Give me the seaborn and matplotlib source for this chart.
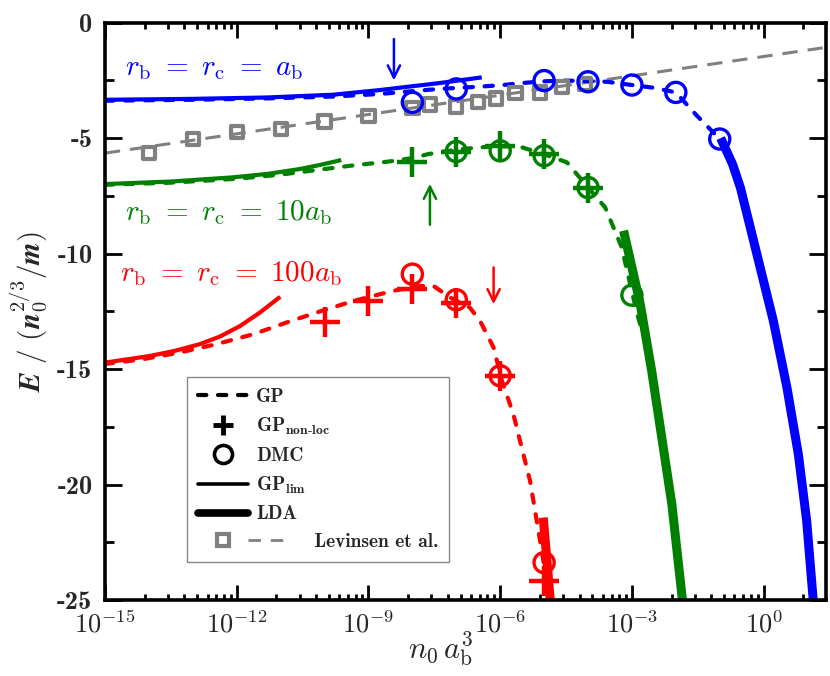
import matplotlib
matplotlib.use("Agg")
import matplotlib.pyplot as plt
import seaborn as sns
import numpy as np
from matplotlib.lines import Line2D
from matplotlib.legend_handler import HandlerBase
from matplotlib.ticker import FixedLocator, NullFormatter

# ---------------- data: x given as log10(n0 a_b^3), y = E/(n0^{2/3}/m) -------------
# r_b = r_c = a_b (blue)
blue_lim_lx = [-15, -13, -11.3, -9.8, -8.75, -7.4, -6.42]
blue_lim_y = [-3.34, -3.30, -3.24, -3.12, -2.92, -2.62, -2.37]
blue_gp_lx = [-15, -13, -11.3, -9.8, -8.75, -7.4, -6.45, -5.93, -5.47, -5.0, -4.52,
              -4.0, -3.57, -3.0, -2.5, -2.0, -1.52, -1.0]
blue_gp_y = [-3.38, -3.34, -3.28, -3.2, -3.09, -2.87, -2.77, -2.70, -2.61, -2.54, -2.51,
             -2.53, -2.56, -2.70, -2.82, -3.02, -4.03, -5.04]
blue_dmc_lx = [-8, -7, -5, -4, -3, -2, -1]
blue_dmc_y = [-3.45, -2.87, -2.51, -2.56, -2.70, -3.02, -5.04]
blue_lda_lx = [-0.98, -0.71, -0.53, -0.155, 0.22, 0.53, 0.79, 0.98, 1.13]
blue_lda_y = [-5.0, -6.12, -7.14, -10.02, -12.91, -15.80, -18.69, -21.58, -25.04]

# r_b = r_c = 10 a_b (green)
green_lim_lx = [-15, -13.5, -12.1, -11.3, -10.57, -10.1, -9.62]
green_lim_y = [-6.99, -6.88, -6.70, -6.55, -6.34, -6.16, -5.95]
green_gp_lx = [-15, -13.5, -12, -11, -10.42, -9.43, -8.52, -7.95, -7.64, -7.0, -6.46,
               -6.0, -5.55, -5.0, -4.48, -4.0, -3.61, -3.42, -3.23, -3.11, -2.88, -2.79]
green_gp_y = [-7.02, -6.93, -6.76, -6.58, -6.44, -6.2, -6.01, -5.85, -5.69, -5.5, -5.40,
              -5.35, -5.37, -5.7, -6.05, -7.14, -8.0, -8.87, -9.74, -10.75, -12.62, -13.2]
green_nl_lx = [-8, -7, -6, -5, -4]
green_nl_y = [-6.05, -5.58, -5.33, -5.70, -7.14]
green_dmc_lx = [-7, -6, -5, -4, -3]
green_dmc_y = [-5.58, -5.55, -5.76, -7.14, -11.8]
green_lda_lx = [-3.19, -2.81, -2.55, -2.32, -2.09, -1.85]
green_lda_y = [-9.01, -12.19, -15.08, -17.97, -20.86, -25.0]

# r_b = r_c = 100 a_b (red)
red_lim_lx = [-15, -13.97, -13.41, -12.84, -12.38, -11.92, -11.47, -11.01]
red_lim_y = [-14.72, -14.43, -14.21, -13.92, -13.59, -13.13, -12.55, -11.87]
red_gp_lx = [-15, -14.13, -13.29, -12.46, -11.62, -10.86, -10.18, -9.34, -8.43, -7.82,
             -7.52, -7.14, -6.69, -6.46, -6.15, -5.96, -5.70, -5.51, -5.32, -5.13, -5.0]
red_gp_y = [-14.78, -14.57, -14.28, -13.92, -13.49, -12.98, -12.55, -12.05, -11.61, -11.4,
            -11.4, -11.9, -12.34, -12.91, -14.07, -15.51, -16.95, -18.4, -19.84, -22.0, -23.5]
red_nl_lx = [-10, -9, -8, -7, -6, -5]
red_nl_y = [-12.98, -12.05, -11.55, -12.15, -15.3, -24.18]
red_dmc_lx = [-8, -7, -6, -5]
red_dmc_y = [-10.89, -12.0, -15.29, -23.38]
red_lda_lx = [-5.02, -4.94, -4.86]
red_lda_y = [-21.43, -23.2, -25.0]

# Levinsen et al. (gray)
lev_sq_lx = [-14, -13, -12, -11, -10, -9, -8, -7.6, -7.0, -6.5, -6.1, -5.65, -5.1, -4.6, -4.07]
lev_sq_y = [-5.66, -5.04, -4.75, -4.61, -4.28, -4.03, -3.70, -3.55, -3.63, -3.45, -3.28,
            -3.06, -3.02, -2.80, -2.66]
lev_line_lx = [-15, 1.42]
lev_line_y = [-5.65, -1.07]

xtick_exp = [-15, -12, -9, -6, -3, 0]
ytick_vals = [0, -5, -10, -15, -20, -25]

BLUE, GREEN, RED, GRAY = "#0000ff", "#008000", "#ff0000", "#808080"

# ---------------- style ----------------
sns.set_style("ticks")
plt.rcParams.update({
    "font.family": ["cmb10", "DejaVu Serif"],
    "mathtext.fontset": "cm",
    "axes.unicode_minus": False,
    "axes.linewidth": 2.6,
    "axes.edgecolor": "black",
})

fig = plt.figure(figsize=(8.3, 6.76), dpi=100)
ax = fig.add_axes([0.1265, 0.1124, 0.8687, 0.8541])
ax.set_xscale("log")

def X(lx):
    return 10.0 ** np.asarray(lx, dtype=float)

DASH = (0, (2.0, 2.8))

def line(lx, y, color, lw, ls="-", z=2, cap="round"):
    sns.lineplot(x=X(lx), y=y, ax=ax, color=color, lw=lw, linestyle=ls, sort=False,
                 estimator=None, legend=False, zorder=z, dash_capstyle=cap,
                 solid_capstyle="butt", solid_joinstyle="round")

def pts(lx, y, color, marker, s, lw, z=4):
    if marker == "+":
        sns.scatterplot(x=X(lx), y=y, ax=ax, marker="+", s=s, color=color,
                        linewidth=lw, legend=False, zorder=z)
    else:
        sns.scatterplot(x=X(lx), y=y, ax=ax, marker=marker, s=s, facecolor="none",
                        edgecolor=color, linewidth=lw, legend=False, zorder=z)

# gray Levinsen
line(lev_line_lx, lev_line_y, GRAY, 2.2, ls=(0, (5, 3.3)), z=1, cap="butt")
pts(lev_sq_lx, lev_sq_y, GRAY, "s", 78, 3.0, z=3)

for lim_lx, lim_y, gp_lx, gp_y, lda_lx, lda_y, c in [
        (blue_lim_lx, blue_lim_y, blue_gp_lx, blue_gp_y, blue_lda_lx, blue_lda_y, BLUE),
        (green_lim_lx, green_lim_y, green_gp_lx, green_gp_y, green_lda_lx, green_lda_y, GREEN),
        (red_lim_lx, red_lim_y, red_gp_lx, red_gp_y, red_lda_lx, red_lda_y, RED)]:
    line(gp_lx, gp_y, c, 3.0, ls=DASH)
    line(lim_lx, lim_y, c, 3.0)
    line(lda_lx, lda_y, c, 6.5)

pts(blue_dmc_lx, blue_dmc_y, BLUE, "o", 210, 2.4)
pts(green_dmc_lx, green_dmc_y, GREEN, "o", 210, 2.4)
pts(red_dmc_lx, red_dmc_y, RED, "o", 210, 2.4)
pts(green_nl_lx, green_nl_y, GREEN, "+", 440, 3.2, z=5)
pts(red_nl_lx, red_nl_y, RED, "+", 440, 3.2, z=5)

# arrows
for xa, y0, y1, c in [(-8.42, -0.71, -2.5, BLUE), (-7.6, -8.75, -6.98, GREEN),
                      (-6.15, -10.6, -12.19, RED)]:
    ax.annotate("", xy=(10 ** xa, y1), xytext=(10 ** xa, y0),
                arrowprops=dict(arrowstyle="->", color=c, lw=1.8, mutation_scale=22,
                                shrinkA=0, shrinkB=0))

# curve labels
ax.text(10 ** -14.54, -2.0, r"$r_{\rm b}\ =\ r_{\rm c}\ =\ a_{\rm b}$", color=BLUE,
        fontsize=21, va="center", ha="left")
ax.text(10 ** -14.54, -8.2, r"$r_{\rm b}\ =\ r_{\rm c}\ =\ 10a_{\rm b}$", color=GREEN,
        fontsize=21, va="center", ha="left")
ax.text(10 ** -14.66, -10.88, r"$r_{\rm b}\ =\ r_{\rm c}\ =\ 100a_{\rm b}$", color=RED,
        fontsize=21, va="center", ha="left")

# axes
ax.set_xlim(1e-15, 10 ** 1.42)
ax.set_ylim(-25, 0)
ax.set_xticks([10.0 ** e for e in xtick_exp])
ax.set_xticklabels([r"$10^{%d}$" % e for e in xtick_exp])
minor = [k ** 3 * 10.0 ** (3 * m) for m in range(-5, 1) for k in range(2, 10)]
minor = [v for v in minor if 1e-15 < v < 10 ** 1.42]
ax.xaxis.set_minor_locator(FixedLocator(minor))
ax.xaxis.set_minor_formatter(NullFormatter())
ax.set_yticks(ytick_vals)
ax.set_yticklabels([str(v) for v in ytick_vals])
ax.yaxis.set_minor_locator(FixedLocator([-2.5, -7.5, -12.5, -17.5, -22.5]))

ax.tick_params(which="both", direction="in", top=True, right=True, width=2.0, color="black")
ax.tick_params(axis="y", which="major", length=12, pad=9, labelsize=19)
ax.tick_params(axis="y", which="minor", length=6.5)
ax.tick_params(axis="x", which="major", length=11, pad=8, labelsize=19)
ax.tick_params(axis="x", which="minor", length=4.5)
for sp in ax.spines.values():
    sp.set_visible(True)
    sp.set_linewidth(2.6)

ax.set_xlabel(r"$n_0\,a_{\rm b}^3$", fontsize=22)
ax.xaxis.set_label_coords(0.465, -0.052)
ax.set_ylabel(r"$\boldsymbol{E}\ /\ (\boldsymbol{n}_0^{2/3}/\boldsymbol{m})$", fontsize=21,
              labelpad=6)

# legend
class LevHandler(HandlerBase):
    def create_artists(self, legend, orig_handle, xdescent, ydescent, width, height,
                       fontsize, trans):
        yc = height / 2.0 - ydescent
        sq = Line2D([width * 0.5 - xdescent], [yc], marker="s", ms=9, mfc="none",
                    mec=GRAY, mew=3.0, ls="none", transform=trans)
        ln = Line2D([width * 1.0 - xdescent, width * 1.85 - xdescent], [yc, yc],
                    color=GRAY, lw=2.0, ls=(0, (4.5, 3.5)), transform=trans)
        return [sq, ln]

h_gp = Line2D([], [], color="k", lw=3.0, ls=DASH, dash_capstyle="round")
h_nl = Line2D([], [], color="k", marker="+", ms=15, mew=3.5, ls="none")
h_dmc = Line2D([], [], color="k", marker="o", ms=13, mew=2.6, mfc="none", ls="none")
h_lim = Line2D([], [], color="k", lw=2.6)
h_lda = Line2D([], [], color="k", lw=5.5, solid_capstyle="round")
h_lev = Line2D([], [])
handles = [h_gp, h_nl, h_dmc, h_lim, h_lda, h_lev]
labels = ["GP", r"GP$_{\mathbf{non}\text{-}\mathbf{loc}}$", "DMC", r"GP$_{\mathbf{lim}}$",
          "LDA", "         Levinsen et al."]
leg = ax.legend(handles, labels, loc="upper left", bbox_to_anchor=(0.114, 0.386),
                frameon=True, fancybox=False, edgecolor="#888888", framealpha=1,
                fontsize=14, handlelength=2.6, handletextpad=0.4, labelspacing=0.5,
                borderpad=0.55, borderaxespad=0, handler_map={h_lev: LevHandler()})
leg.get_frame().set_linewidth(1.0)
leg.set_zorder(10)

fig.savefig("out.png", dpi=100)
